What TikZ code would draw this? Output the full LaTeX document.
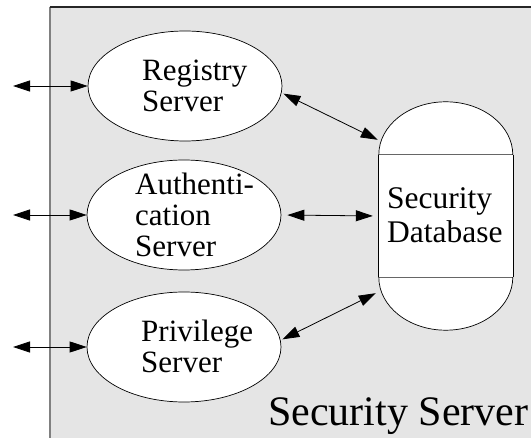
\documentclass[tikz,border=0pt]{standalone}
\usepackage{fontspec}
\setmainfont{Liberation Serif}
\usetikzlibrary{arrows.meta,calc,shapes.geometric}
\definecolor{panel}{HTML}{E5E5E5}
\begin{document}
\begin{tikzpicture}[x=1pt,y=-1pt,
  arr/.style={{Triangle[length=17pt,width=11pt]}-{Triangle[length=17pt,width=11pt]}, line width=0.8pt},
  srv/.style={draw, ellipse, fill=white, line width=0.7pt, minimum width=194pt, minimum height=110pt, inner sep=0pt},
  lbl/.style={inner sep=0pt, align=left, font=\fontsize{31}{31}\selectfont},
  dblbl/.style={inner sep=0pt, align=left, font=\fontsize{31.5}{34}\selectfont}]
\useasboundingbox (0,0) rectangle (531,438);
% panel
\fill[panel] (50,7) rectangle (540,445);
\draw[line width=1.5pt, black!50] (50,445) -- (50,7);
\draw[line width=1.2pt, black!85] (49.5,7) -- (540,7);
\node[anchor=base west, inner sep=0pt, font=\fontsize{42}{42}\selectfont] (title) at (268,426) {Security Server};
% servers
\node[srv] (reg) at (185,86) {};
\node[srv] (auth) at (184,215) {};
\node[srv] (priv) at (184,347) {};
\node[lbl, anchor=west] (regt) at (142,86) {Registry\\Server};
\node[lbl, anchor=west] (autht) at (135,215) {Authenti-\\cation\\Server};
\node[lbl, anchor=west] (privt) at (141,346) {Privilege\\Server};
% database
\node[fill=white, minimum width=134pt, minimum height=122pt, inner sep=0pt] (db) at (446,216) {};
\fill[white] (db.north west) arc[start angle=180, end angle=0, x radius=67pt, y radius=53pt] -- cycle;
\fill[white] (db.south west) arc[start angle=180, end angle=360, x radius=67pt, y radius=53pt] -- cycle;
\draw[line width=1pt, black!60] (db.north west) -- (db.north east) (db.south west) -- (db.south east);
\draw[line width=0.7pt] (db.north west) arc[start angle=180, end angle=0, x radius=67pt, y radius=53pt];
\draw[line width=0.7pt] (db.south west) arc[start angle=180, end angle=360, x radius=67pt, y radius=53pt];
\draw[line width=0.7pt] (db.north west) -- (db.south west) (db.north east) -- (db.south east);
\node[dblbl, anchor=west] (dbt) at (387,215) {Security\\Database};
% external connectors
\coordinate (ra) at (13,86);
\coordinate (aa) at (13,215);
\coordinate (pa) at (13,347);
\draw[arr] (ra) -- (reg.west);
\draw[arr] (aa) -- (auth.west);
\draw[arr] (pa) -- (priv.west);
% database connectors
\draw[arr, shorten <=2pt] (reg.-4) -- ($(db.north west)+(-1,-15)$);
\draw[arr, shorten <=6pt, shorten >=6pt] (auth.east) -- (db.west);
\draw[arr, shorten <=2pt] (priv.4) -- ($(db.south west)+(-3,16)$);
\end{tikzpicture}
\end{document}
